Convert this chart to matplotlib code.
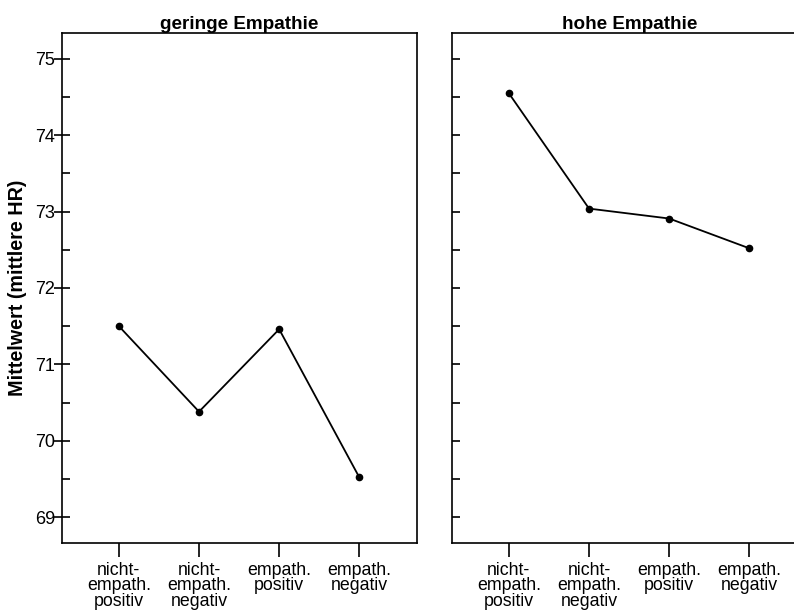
import matplotlib
matplotlib.use("Agg")
import matplotlib.pyplot as plt
from matplotlib.ticker import MultipleLocator

plt.rcParams['font.family'] = ['Liberation Sans', 'DejaVu Sans']

categories = ["nicht-\nempath.\npositiv", "nicht-\nempath.\nnegativ", "empath.\npositiv", "empath.\nnegativ"]
low_values = [71.50, 70.38, 71.46, 69.52]
high_values = [74.55, 73.04, 72.91, 72.52]
titles = ["geringe Empathie", "hohe Empathie"]
ylabel = "Mittelwert (mittlere HR)"

W, H = 794, 610
fig = plt.figure(figsize=(W / 100, H / 100), dpi=100)

def fx(px):
    return px / W

def fy(py):
    return 1 - py / H

ax1 = fig.add_axes([fx(62), fy(543), fx(355), (543 - 33) / H])
ax2 = fig.add_axes([fx(452), fy(543), fx(355), (543 - 33) / H])

x = list(range(1, len(categories) + 1))
for ax, vals, title in [(ax1, low_values, titles[0]), (ax2, high_values, titles[1])]:
    ax.plot(x, vals, color='black', lw=1.3, marker='o', ms=4.5)
    ax.set_xlim(0.29, 4.72)
    ax.set_ylim(68.66, 75.34)
    ax.set_xticks(x)
    ax.set_xticklabels(categories, fontsize=12.8, linespacing=0.85)
    ax.yaxis.set_major_locator(MultipleLocator(1))
    ax.yaxis.set_minor_locator(MultipleLocator(0.5))
    ax.tick_params(axis='x', direction='out', length=10, width=1.2, pad=4)
    ax.set_title(title, fontsize=13.6, fontweight='bold', pad=3)
    for s in ax.spines.values():
        s.set_linewidth(1.2)

ax1.tick_params(axis='y', which='major', direction='inout', length=11, width=1.2, labelsize=13, pad=-0.5)
ax1.tick_params(axis='y', which='minor', direction='in', length=6, width=1.2)
ax1.set_ylabel(ylabel, fontsize=14.2, fontweight='bold', labelpad=5.5)

ax2.tick_params(axis='y', which='both', direction='in', length=6, width=1.2, labelleft=False)

fig.savefig("out.png", dpi=100)
